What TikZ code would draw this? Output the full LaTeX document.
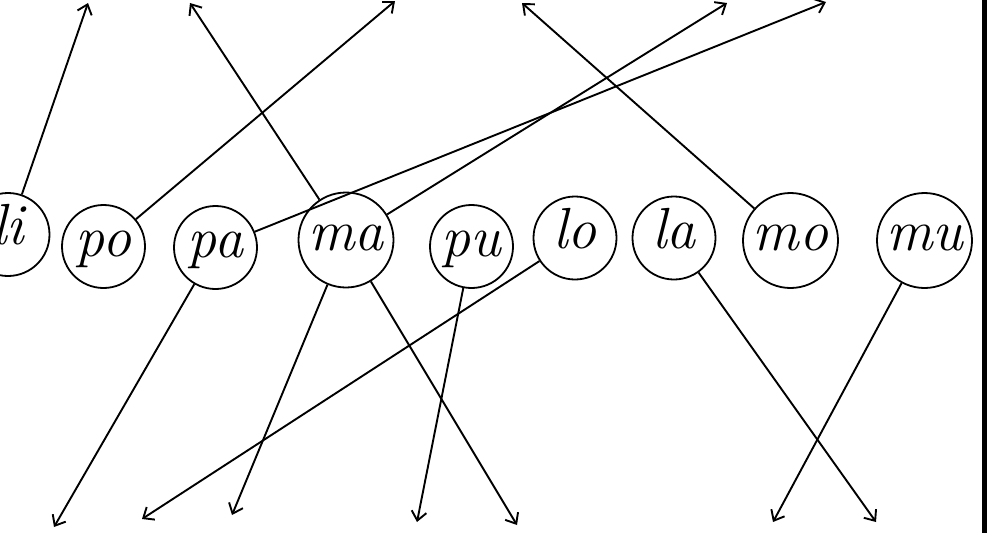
\documentclass[tikz,border=0pt]{standalone}
\usepackage{tikz}
\usetikzlibrary{arrows.meta}
\tikzset{
  syl/.style={
    circle, draw=black, line width=1.8pt, inner sep=0pt,
    minimum size=83pt, text height=30pt, text depth=10pt,
    font=\fontsize{58}{62}\selectfont\itshape},
  sylwide/.style={syl, minimum size=95pt},
  link/.style={-{Straight Barb[length=9pt,width=15pt]}, draw=black,
    line width=1.9pt},
}
\begin{document}
\begin{tikzpicture}[x=1pt,y=-1pt]
\useasboundingbox (0,0) rectangle (989,533);

% syllables
\node[syl]     (li) at (8,234.5)   {li};
\node[syl]     (po) at (103.5,246.5) {po};
\node[syl]     (pa) at (215.5,247.5) {pa};
\node[sylwide] (ma) at (346,240)   {ma};
\node[syl]     (pu) at (471.5,246.5) {pu};
\node[syl]     (lo) at (575,238)   {lo};
\node[syl]     (la) at (674,238)   {la};
\node[sylwide] (mo) at (790.5,240.5) {mo};
\node[sylwide] (mu) at (924.5,240.5) {mu};

% free ends, top row
\coordinate (top1) at (88,3);
\coordinate (top2) at (190,3);
\coordinate (top3) at (395,1);
\coordinate (top4) at (522,3);
\coordinate (top5) at (727,3);
\coordinate (top6) at (826,2);

% free ends, bottom row
\coordinate (bot1) at (54,527);
\coordinate (bot2) at (142,519);
\coordinate (bot3) at (232,515);
\coordinate (bot4) at (417,522);
\coordinate (bot5) at (517,525);
\coordinate (bot6) at (876,522);
\coordinate (bot7) at (773,522);

% arrows up
\draw[link] (li) -- (top1);
\draw[link] (ma) -- (top2);
\draw[link] (po) -- (top3);
\draw[link] (mo) -- (top4);
\draw[link] (ma) -- (top5);
\draw[link] (pa) -- (top6);

% arrows down
\draw[link] (pa) -- (bot1);
\draw[link] (lo) -- (bot2);
\draw[link] (ma) -- (bot3);
\draw[link] (pu) -- (bot4);
\draw[link] (ma) -- (bot5);
\draw[link] (la) -- (bot6);
\draw[link] (mu) -- (bot7);

% margin rule
\coordinate (ruletop) at (984.5,0);
\coordinate (rulebot) at (984.5,533);
\draw[line width=5pt] (ruletop) -- (rulebot);

\end{tikzpicture}
\end{document}
